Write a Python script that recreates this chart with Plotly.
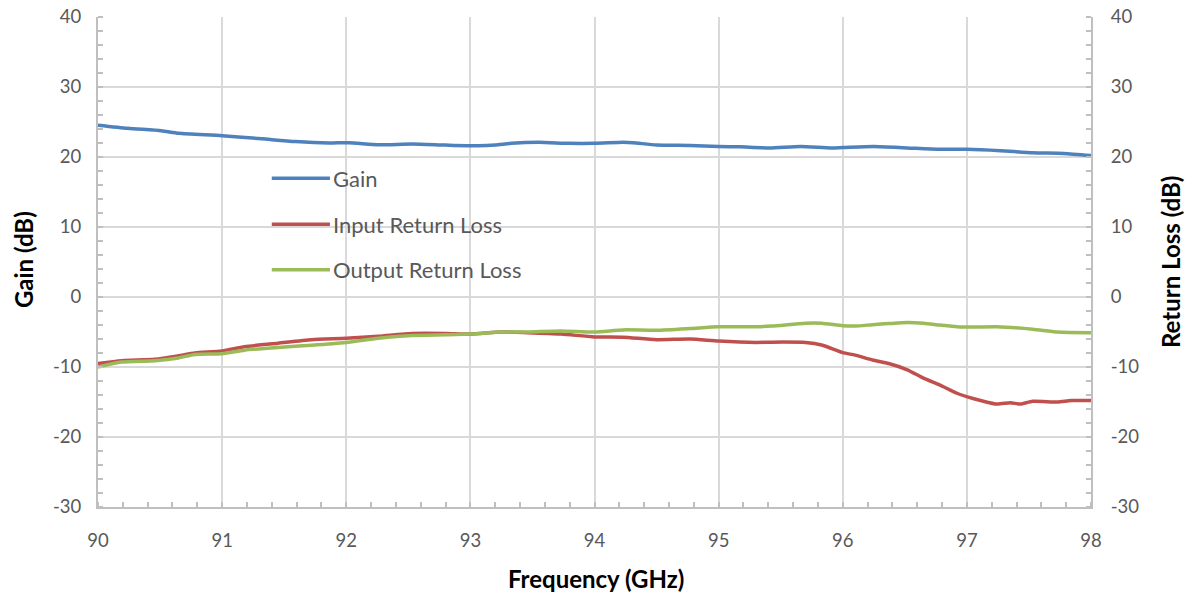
import plotly.graph_objects as go

# ---- data ----
freq_gain = [90.0, 90.24, 90.51, 90.65, 91.0, 91.32, 91.59, 91.86, 92.02, 92.26, 92.53, 92.8,
             93.06, 93.2, 93.33, 93.55, 93.79, 94.0, 94.23, 94.31, 94.5, 94.77, 95.0, 95.17,
             95.41, 95.66, 95.9, 96.0, 96.25, 96.52, 96.78, 97.0, 97.27, 97.53, 97.78, 98.0]
gain_db = [24.55, 24.1, 23.75, 23.4, 23.05, 22.6, 22.2, 22.0, 22.05, 21.75, 21.85, 21.7,
           21.6, 21.7, 21.95, 22.1, 21.95, 21.95, 22.1, 22.05, 21.7, 21.65, 21.5, 21.45,
           21.3, 21.5, 21.3, 21.35, 21.5, 21.3, 21.1, 21.1, 20.9, 20.6, 20.5, 20.2]

freq_irl = [90.0, 90.19, 90.46, 90.65, 90.78, 91.0, 91.18, 91.45, 91.72, 92.0, 92.26, 92.53,
            92.8, 93.0, 93.25, 93.46, 93.73, 94.0, 94.23, 94.5, 94.77, 95.0, 95.3, 95.43,
            95.7, 95.83, 96.0, 96.1, 96.24, 96.37, 96.52, 96.65, 96.78, 96.92, 97.05, 97.24,
            97.35, 97.43, 97.53, 97.73, 97.84, 98.0]
input_rl = [-9.5, -9.1, -8.9, -8.4, -8.0, -7.7, -7.1, -6.6, -6.1, -5.9, -5.6, -5.2,
            -5.2, -5.3, -5.0, -5.1, -5.3, -5.7, -5.75, -6.1, -6.0, -6.3, -6.5, -6.45,
            -6.5, -6.85, -7.95, -8.3, -9.0, -9.5, -10.4, -11.6, -12.55, -13.75, -14.5, -15.3,
            -15.1, -15.3, -14.9, -15.0, -14.8, -14.8]

freq_orl = [90.0, 90.19, 90.46, 90.65, 90.78, 91.0, 91.18, 91.45, 91.72, 92.0, 92.26, 92.53,
            92.8, 93.0, 93.25, 93.46, 93.73, 94.0, 94.23, 94.5, 94.77, 95.0, 95.3, 95.43,
            95.7, 95.83, 96.0, 96.1, 96.24, 96.37, 96.52, 96.65, 96.78, 96.92, 97.05, 97.24,
            97.53, 97.73, 98.0]
output_rl = [-10.0, -9.3, -9.1, -8.7, -8.2, -8.1, -7.6, -7.2, -6.9, -6.5, -5.9, -5.5,
             -5.4, -5.3, -5.0, -5.0, -4.85, -5.0, -4.7, -4.75, -4.5, -4.25, -4.25, -4.15,
             -3.75, -3.75, -4.1, -4.15, -3.95, -3.8, -3.65, -3.75, -4.0, -4.25, -4.3, -4.25,
             -4.6, -5.0, -5.1]

series_names = ["Gain", "Input Return Loss", "Output Return Loss"]
x_ticks = [90, 91, 92, 93, 94, 95, 96, 97, 98]
x_labels = ["90", "91", "92", "93", "94", "95", "96", "97", "98"]
y_ticks = [-30, -20, -10, 0, 10, 20, 30, 40]
y_labels = ["-30", "-20", "-10", "0", "10", "20", "30", "40"]
x_title = "Frequency (GHz)"
y_title = "Gain (dB)"
y2_title = "Return Loss (dB)"

colors = ["#4F81BD", "#C0504D", "#9BBB59"]
FONT = "Lato, Open Sans, sans-serif"
GRAY = "#595959"
GRID = "#D9D9D9"
AXIS = "#BFBFBF"

fig = go.Figure()
fig.add_trace(go.Scatter(x=freq_gain, y=gain_db, name=series_names[0], mode="lines",
                         line=dict(color=colors[0], width=3.5, shape="spline", smoothing=0.6),
                         yaxis="y"))
fig.add_trace(go.Scatter(x=freq_irl, y=input_rl, name=series_names[1], mode="lines",
                         line=dict(color=colors[1], width=3.5, shape="spline", smoothing=0.6),
                         yaxis="y2"))
fig.add_trace(go.Scatter(x=freq_orl, y=output_rl, name=series_names[2], mode="lines",
                         line=dict(color=colors[2], width=3.5, shape="spline", smoothing=0.6),
                         yaxis="y2"))

common_y = dict(range=[-30, 40], tickvals=y_ticks, ticktext=y_labels, showgrid=True,
                gridcolor=GRID, gridwidth=1.5, automargin=False,
                zeroline=False, showline=True, linecolor=AXIS, linewidth=2,
                ticks="", tickfont=dict(family=FONT, size=18.5, color=GRAY),
                minor=dict(dtick=2, ticks="inside", ticklen=5, tickcolor=AXIS, tickwidth=1.5,
                           showgrid=False))

fig.update_layout(
    width=1187, height=594,
    margin=dict(l=98, r=96, t=17, b=87),
    paper_bgcolor="white", plot_bgcolor="white",
    showlegend=False,
    xaxis=dict(range=[90, 98], tickvals=x_ticks, ticktext=x_labels, showgrid=True,
               gridcolor=GRID, gridwidth=1.5, automargin=False,
               zeroline=False, showline=True, linecolor=AXIS, linewidth=2, ticks="",
               tickfont=dict(family=FONT, size=18.5, color=GRAY),
               minor=dict(dtick=0.2, ticks="inside", ticklen=5, tickcolor=AXIS, tickwidth=1.5,
                          showgrid=False),
               ticklabelstandoff=16),
    yaxis=dict(**common_y, side="left", ticklabelstandoff=11),
    yaxis2=dict(**common_y, side="right", overlaying="y", ticklabelstandoff=14),
)

# axis titles
title_font = dict(family=FONT, size=24, color="black")
fig.add_annotation(xref="paper", yref="paper", x=0.5016, y=-0.145, text="<b>%s</b>" % x_title,
                   showarrow=False, xanchor="center", yanchor="middle", font=title_font)
fig.add_annotation(xref="paper", yref="paper", x=-0.0755, y=0.504, text="<b>%s</b>" % y_title,
                   showarrow=False, xanchor="center", yanchor="middle", textangle=-90,
                   font=title_font)
fig.add_annotation(xref="paper", yref="paper", x=1.0796, y=0.5, text="<b>%s</b>" % y2_title,
                   showarrow=False, xanchor="center", yanchor="middle", textangle=-90,
                   font=title_font)

# manual legend (line sample + label), as in the reference
legend_y = [0.671, 0.577, 0.484]
for name, col, ly in zip(series_names, colors, legend_y):
    fig.add_shape(type="line", xref="paper", yref="paper", x0=0.175, x1=0.2336, y0=ly, y1=ly,
                  line=dict(color=col, width=3.5))
    fig.add_annotation(xref="paper", yref="paper", x=0.2346, y=ly, text=name, showarrow=False,
                       xanchor="left", yanchor="middle",
                       font=dict(family=FONT, size=22, color=GRAY))

fig.write_html("out.html", config={"displayModeBar": False},
               post_script="document.body.style.margin='0';document.body.style.padding='0';")
